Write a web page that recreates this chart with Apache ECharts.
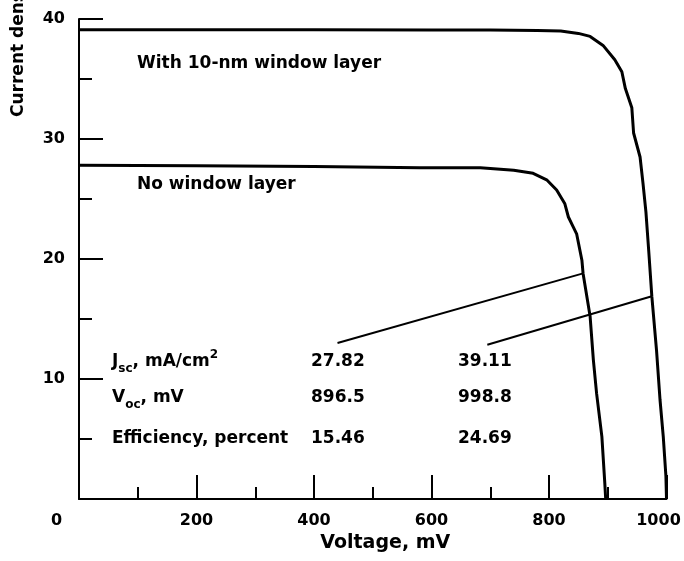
<!DOCTYPE html>
<html><head><meta charset="utf-8">
<script src="https://cdn.jsdelivr.net/npm/echarts@6/dist/echarts.min.js"></script>
<style>html,body{margin:0;padding:0;background:#fff}#c{width:684px;height:561px}</style>
</head><body><div id="c"></div>
<script>
// ---- data ----
const withWindowV = [0, 200, 400, 600, 700, 780, 820, 850, 870, 892, 912, 924, 930, 941, 944, 955, 960, 965, 970, 975, 983, 989, 994.5, 999, 1000];
const withWindowJ = [39.11, 39.1, 39.1, 39.09, 39.08, 39.05, 39.0, 38.8, 38.55, 37.8, 36.6, 35.6, 34.2, 32.6, 30.5, 28.5, 26.3, 23.9, 20.5, 16.9, 12.4, 8.25, 5.2, 1.9, 0];
const noWindowV = [0, 200, 400, 580, 683, 740, 773, 796, 813, 827, 833, 841, 847, 856, 858, 870, 875.5, 881, 890, 895, 896.5];
const noWindowJ = [27.82, 27.78, 27.7, 27.6, 27.6, 27.4, 27.14, 26.6, 25.75, 24.6, 23.5, 22.7, 22.1, 19.9, 18.8, 15.2, 11.6, 8.8, 5.2, 1.3, 0];
const leaderNoV = [440, 858];
const leaderNoJ = [13.0, 18.8];
const leaderWithV = [695, 975];
const leaderWithJ = [12.85, 16.9];
const xTickLabels = ['0', '200', '400', '600', '800', '1000'];
const yTickLabels = ['', '10', '20', '30', '40'];
const curveLabels = ['With 10-nm window layer', 'No window layer'];
const tableRows = ['Jsc, mA/cm2', 'Voc, mV', 'Efficiency, percent'];
const noWindowValues = ['27.82', '896.5', '15.46'];
const withWindowValues = ['39.11', '998.8', '24.69'];
const xTitle = 'Voltage, mV';
const yTitle = 'Current density, mA/cm²';

const F = 'DejaVu Sans';
const pair = (a, b) => a.map((v, i) => [v, b[i]]);
const blk = '#000';

const chart = echarts.init(document.getElementById('c'), null, {renderer: 'canvas'});

const baseText = {fill: blk, fontFamily: F, fontWeight: 'bold', fontSize: 17};
const richDef = {
  b: {fontFamily: F, fontWeight: 'bold', fontSize: 17, lineHeight: 26, fill: blk, color: blk},
  sub: {fontFamily: F, fontWeight: 'bold', fontSize: 12, lineHeight: 12, verticalAlign: 'bottom', color: blk},
  sup: {fontFamily: F, fontWeight: 'bold', fontSize: 12, lineHeight: 12, verticalAlign: 'top', color: blk}
};
const rowRich = [
  '{b|J}{sub|sc}{b|, mA/cm}{sup|2}',
  '{b|V}{sub|oc}{b|, mV}',
  '{b|' + tableRows[2] + '}'
];
const rowY = [362, 398, 439];

const graphics = [];
graphics.push({type: 'text', left: null, x: 137, y: 64, style: Object.assign({}, baseText, {text: curveLabels[0], verticalAlign: 'middle', align: 'left'})});
graphics.push({type: 'text', x: 137, y: 185, style: Object.assign({}, baseText, {text: curveLabels[1], verticalAlign: 'middle', align: 'left'})});
rowRich.forEach((t, i) => {
  graphics.push({type: 'text', x: 112, y: rowY[i], style: {text: t, rich: richDef, verticalAlign: 'middle', align: 'left', fill: blk}});
  graphics.push({type: 'text', x: 311, y: rowY[i], style: Object.assign({}, baseText, {text: noWindowValues[i], verticalAlign: 'middle', align: 'left'})});
  graphics.push({type: 'text', x: 458, y: rowY[i], style: Object.assign({}, baseText, {text: withWindowValues[i], verticalAlign: 'middle', align: 'left'})});
});
graphics.push({type: 'text', x: 19, y: 117, rotation: Math.PI / 2, style: Object.assign({}, baseText, {text: yTitle, verticalAlign: 'middle', align: 'left'})});

const lineSeries = (data, w) => ({
  type: 'line', data, showSymbol: false, symbol: 'none', smooth: false,
  lineStyle: {color: blk, width: w}, silent: true, animation: false, z: 3
});

chart.setOption({
  animation: false,
  backgroundColor: '#fff',
  grid: {left: 79, right: 17.5, top: 19, bottom: 62, containLabel: false, outerBoundsMode: 'none'},
  xAxis: {
    type: 'value', min: 0, max: 1000, interval: 200,
    name: xTitle, nameLocation: 'middle', nameGap: 30,
    nameTextStyle: {color: blk, fontFamily: F, fontWeight: 'bold', fontSize: 19, padding: [0, 0, 0, 25]},
    axisLine: {show: true, onZero: false, lineStyle: {color: blk, width: 2}},
    axisTick: {show: true, inside: true, length: 24, lineStyle: {color: blk, width: 2}},
    minorTick: {show: true, splitNumber: 2, length: 12, lineStyle: {color: blk, width: 2}},
    splitLine: {show: false},
    axisLabel: {
      color: blk, fontFamily: F, fontWeight: 'bold', fontSize: 16, margin: 14,
      formatter: (v) => {
        const t = xTickLabels[Math.round(v / 200)];
        if (v === 0) return '{z|' + t + '}';
        if (v === 1000) return '{e|' + t + '}';
        return t;
      },
      rich: {
        z: {fontFamily: F, fontWeight: 'bold', fontSize: 16, color: blk, padding: [0, 45, 0, 0]},
        e: {fontFamily: F, fontWeight: 'bold', fontSize: 16, color: blk, padding: [0, 16, 0, 0]}
      }
    }
  },
  yAxis: {
    type: 'value', min: 0, max: 40, interval: 10,
    axisLine: {show: true, onZero: false, lineStyle: {color: blk, width: 2}},
    axisTick: {show: true, inside: true, length: 24, lineStyle: {color: blk, width: 2}},
    minorTick: {show: true, splitNumber: 2, length: 13, lineStyle: {color: blk, width: 2}},
    splitLine: {show: false},
    axisLabel: {
      color: blk, fontFamily: F, fontWeight: 'bold', fontSize: 16, margin: 14,
      formatter: (v) => yTickLabels[Math.round(v / 10)]
    }
  },
  series: [
    lineSeries(pair(withWindowV, withWindowJ), 3),
    lineSeries(pair(noWindowV, noWindowJ), 3),
    lineSeries(pair(leaderNoV, leaderNoJ), 2),
    lineSeries(pair(leaderWithV, leaderWithJ), 2)
  ],
  graphic: graphics
});
</script></body></html>
